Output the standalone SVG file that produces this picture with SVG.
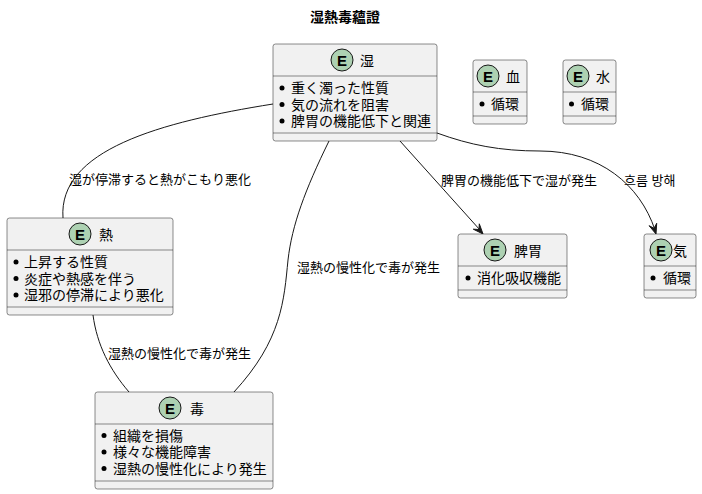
<svg xmlns="http://www.w3.org/2000/svg" width="702" height="494" viewBox="0 0 702 494">
<defs>
<style>
text{font-family:"Liberation Sans","Noto Sans CJK JP","Noto Sans CJK KR",sans-serif;fill:#000}
.box{fill:#F1F1F1;stroke:#181818;stroke-width:0.5}
.sep{stroke:#181818;stroke-width:0.5}
.badge{fill:#ADD1B2;stroke:#181818;stroke-width:1}
.e{font-size:15px;font-weight:bold;text-anchor:middle}
.name{font-size:14px}
.item{font-size:14px}
.dot{fill:#000}
.edge{fill:none;stroke:#181818;stroke-width:1}
.head{fill:#181818;stroke:#181818;stroke-width:1}
.lbl{font-size:13px}
.title{font-size:14px;font-weight:bold;text-anchor:middle}
</style>
</defs>
<rect width="702" height="494" fill="#FFFFFF"/>
<text class="title" x="345" y="22">湿熱毒蘊證</text>

<g id="connectors">
<path class="edge" d="M273,104 C160,122 58,150 63,218"/>
<path class="edge" d="M329,141 C305,190 292,225 288,260 C284,300 282,340 234,392"/>
<path class="edge" d="M93,315 C97,345 110,370 129,392"/>
<path class="edge" d="M400,141 L480,230"/>
<polygon class="head" points="483,234 473.3,229.2 479,229.5 479.3,223.8"/>
<path class="edge" d="M437,133 C470,145 500,151 540,151 C600,151 640,185 655,230"/>
<polygon class="head" points="656,234 649.1,225.7 654.1,228.3 656.7,223.3"/>
<text class="lbl" x="69" y="184">湿が停滞すると熱がこもり悪化</text>
<text class="lbl" x="297" y="272">湿熱の慢性化で毒が発生</text>
<text class="lbl" x="108" y="358">湿熱の慢性化で毒が発生</text>
<text class="lbl" x="441" y="185">脾胃の機能低下で湿が発生</text>
<text class="lbl" x="624" y="185">흐름 방해</text>
</g>

<g id="node-shitsu">
<rect class="box" x="273" y="44" width="164" height="97" rx="2.5"/>
<line class="sep" x1="273" y1="76" x2="437" y2="76"/>
<line class="sep" x1="273" y1="133" x2="437" y2="133"/>
<circle class="badge" cx="342" cy="60" r="11"/>
<text class="e" x="342" y="65.5">E</text>
<text class="name" x="360" y="66">湿</text>
<circle class="dot" cx="282" cy="88" r="2.5"/>
<text class="item" x="291" y="93">重く濁った性質</text>
<circle class="dot" cx="282" cy="104.5" r="2.5"/>
<text class="item" x="291" y="109.5">気の流れを阻害</text>
<circle class="dot" cx="282" cy="121" r="2.5"/>
<text class="item" x="291" y="126">脾胃の機能低下と関連</text>
</g>

<g id="node-netsu">
<rect class="box" x="7" y="218" width="166" height="97" rx="2.5"/>
<line class="sep" x1="7" y1="250" x2="173" y2="250"/>
<line class="sep" x1="7" y1="307" x2="173" y2="307"/>
<circle class="badge" cx="80" cy="234" r="11"/>
<text class="e" x="80" y="239.5">E</text>
<text class="name" x="99" y="240">熱</text>
<circle class="dot" cx="16" cy="262" r="2.5"/>
<text class="item" x="24" y="267">上昇する性質</text>
<circle class="dot" cx="16" cy="278.5" r="2.5"/>
<text class="item" x="24" y="283.5">炎症や熱感を伴う</text>
<circle class="dot" cx="16" cy="295" r="2.5"/>
<text class="item" x="24" y="300">湿邪の停滞により悪化</text>
</g>

<g id="node-doku">
<rect class="box" x="95" y="392" width="178" height="97" rx="2.5"/>
<line class="sep" x1="95" y1="424" x2="273" y2="424"/>
<line class="sep" x1="95" y1="481" x2="273" y2="481"/>
<circle class="badge" cx="170" cy="408" r="11"/>
<text class="e" x="170" y="413.5">E</text>
<text class="name" x="190" y="414">毒</text>
<circle class="dot" cx="104" cy="435.5" r="2.5"/>
<text class="item" x="113" y="440.5">組織を損傷</text>
<circle class="dot" cx="104" cy="452" r="2.5"/>
<text class="item" x="113" y="457">様々な機能障害</text>
<circle class="dot" cx="104" cy="468.5" r="2.5"/>
<text class="item" x="113" y="473.5">湿熱の慢性化により発生</text>
</g>

<g id="node-hii">
<rect class="box" x="458" y="234" width="109" height="64" rx="2.5"/>
<line class="sep" x1="458" y1="266" x2="567" y2="266"/>
<line class="sep" x1="458" y1="290" x2="567" y2="290"/>
<circle class="badge" cx="495" cy="250" r="11"/>
<text class="e" x="495" y="255.5">E</text>
<text class="name" x="514" y="256">脾胃</text>
<circle class="dot" cx="468" cy="278" r="2.5"/>
<text class="item" x="477" y="283">消化吸収機能</text>
</g>

<g id="node-ki">
<rect class="box" x="644" y="234" width="52" height="64" rx="2.5"/>
<line class="sep" x1="644" y1="266" x2="696" y2="266"/>
<line class="sep" x1="644" y1="290" x2="696" y2="290"/>
<circle class="badge" cx="661" cy="250" r="11"/>
<text class="e" x="661" y="255.5">E</text>
<text class="name" x="673" y="256">気</text>
<circle class="dot" cx="653" cy="278" r="2.5"/>
<text class="item" x="663" y="283">循環</text>
</g>

<g id="node-ketsu">
<rect class="box" x="473" y="60" width="54" height="64" rx="2.5"/>
<line class="sep" x1="473" y1="92" x2="527" y2="92"/>
<line class="sep" x1="473" y1="116" x2="527" y2="116"/>
<circle class="badge" cx="488" cy="76" r="11"/>
<text class="e" x="488" y="81.5">E</text>
<text class="name" x="506" y="82">血</text>
<circle class="dot" cx="482" cy="104" r="2.5"/>
<text class="item" x="491" y="109">循環</text>
</g>

<g id="node-sui">
<rect class="box" x="563" y="60" width="53" height="64" rx="2.5"/>
<line class="sep" x1="563" y1="92" x2="616" y2="92"/>
<line class="sep" x1="563" y1="116" x2="616" y2="116"/>
<circle class="badge" cx="578" cy="76" r="11"/>
<text class="e" x="578" y="81.5">E</text>
<text class="name" x="596" y="82">水</text>
<circle class="dot" cx="571.5" cy="104" r="2.5"/>
<text class="item" x="581" y="109">循環</text>
</g>
</svg>
